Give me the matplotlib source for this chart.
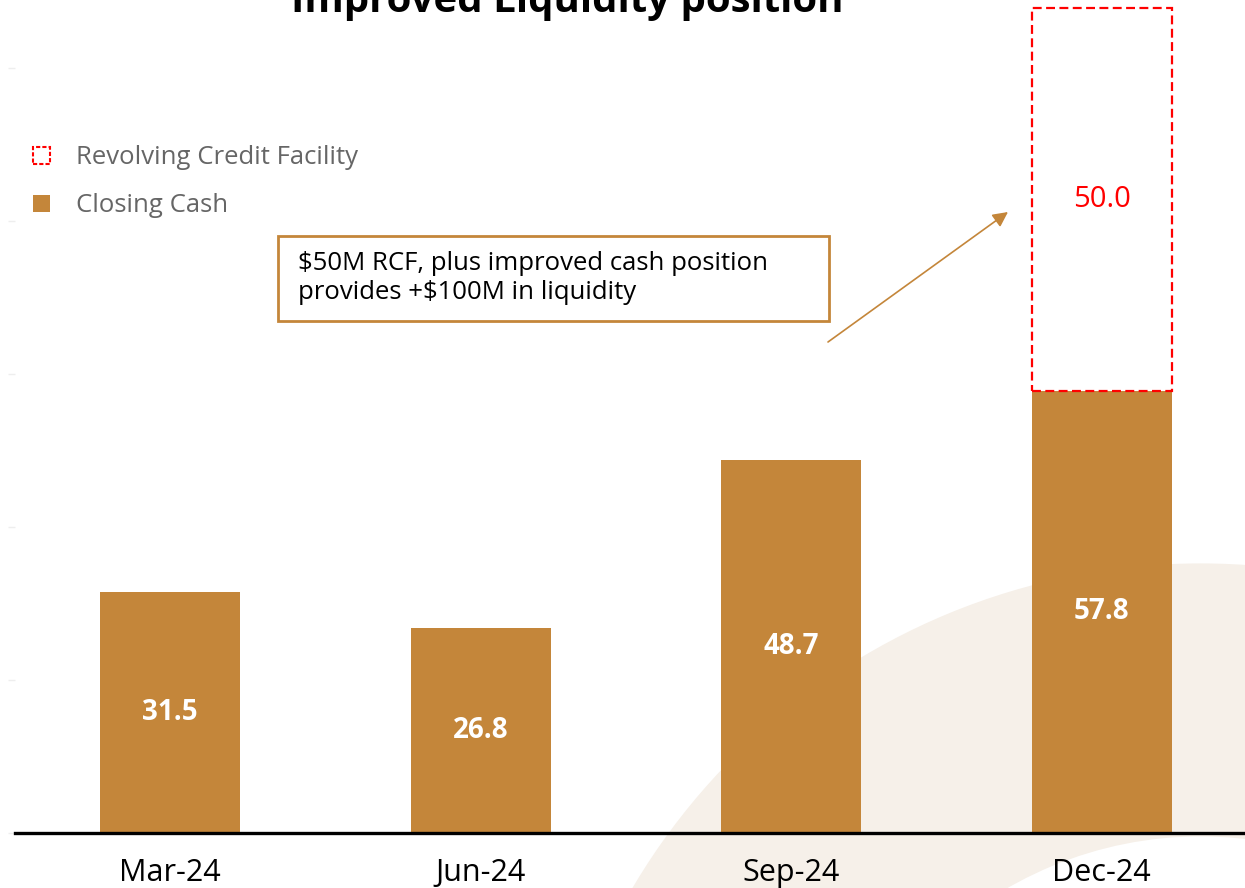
import matplotlib
matplotlib.use("Agg")
import matplotlib.pyplot as plt
from matplotlib.patches import Patch, Rectangle, Wedge

# data
quarters = ["Mar-24", "Jun-24", "Sep-24", "Dec-24"]
closing_cash = [31.5, 26.8, 48.7, 57.8]
rcf = [0, 0, 0, 50.0]

CASH = "#C4863A"
RING = "#F6F0E9"
plt.rcParams["font.family"] = ["Open Sans", "DejaVu Sans"]

W, H = 1245, 888
fig = plt.figure(figsize=(W / 100, H / 100), dpi=100)

# faint background ring (figure pixels -> inches)
ring = Wedge((12.006, -3.35), 6.596, 0, 360, width=2.73,
             transform=fig.dpi_scale_trans, facecolor=RING,
             edgecolor="none", zorder=0)
fig.add_artist(ring)

ax = fig.add_axes([15 / W, 55 / H, 1242 / W, 833 / H])
ax.set_facecolor("none")
ax.set_zorder(1)

x = list(range(len(quarters)))
ax.bar(x, closing_cash, width=0.45, color=CASH, zorder=2)
for xi, c, r in zip(x, closing_cash, rcf):
    ax.text(xi, c / 2, f"{c:.1f}", ha="center", va="center",
            color="white", fontsize=20, fontweight="bold", zorder=3)
    if r > 0:
        ax.bar(xi, r, bottom=c, width=0.45, facecolor="white",
               edgecolor="#FF0000", linestyle=(0, (4, 2)), linewidth=1.6,
               zorder=2)
        ax.text(xi, c + r / 2, f"{r:.1f}", ha="center", va="center",
                color="#FF0000", fontsize=21, zorder=3)

ax.set_xlim(-0.5, 3.5)
ax.set_ylim(0, 833 / 7.65)
ax.set_xticks(x)
ax.set_xticklabels(quarters, fontsize=22, color="black")
ax.tick_params(axis="x", length=0, pad=18)
ax.set_yticks([0, 20, 40, 60, 80, 100])
ax.set_yticklabels([])
ax.tick_params(axis="y", length=5, color="#EEEEEE", width=1)
for s in ["top", "right", "left"]:
    ax.spines[s].set_visible(False)
ax.spines["bottom"].set_linewidth(2.4)
ax.spines["bottom"].set_color("black")

# title (cut off at the top, as in the source)
fig.text(567 / W, (H - 12) / H, "Improved Liquidity position",
         ha="center", va="baseline", fontsize=29, fontweight="bold")

# legend
handles = [
    Patch(facecolor="white", edgecolor="#FF0000", linestyle=(0, (2, 1)),
          linewidth=1.5, label="Revolving Credit Facility"),
    Patch(facecolor=CASH, edgecolor="none", label="Closing Cash"),
]
leg = fig.legend(handles=handles, loc="upper left",
                 bbox_to_anchor=(10 / W, (H - 122) / H), frameon=False,
                 handlelength=0.65, handleheight=0.65, handletextpad=1.0,
                 labelspacing=0.9, fontsize=18.5)
for t in leg.get_texts():
    t.set_color("#666666")

# callout box
fig.add_artist(Rectangle((278 / W, (H - 321) / H), 551 / W, 85 / H,
                         transform=fig.transFigure, facecolor="white",
                         edgecolor=CASH, linewidth=2, zorder=3))
fig.text(298 / W, (H - 278) / H,
         "$50M RCF, plus improved cash position\nprovides +$100M in liquidity",
         ha="left", va="center", fontsize=18.5, linespacing=1.2, zorder=4)

ax.annotate("", xy=(1008, H - 212), xycoords="figure pixels",
            xytext=(828, H - 342), textcoords="figure pixels",
            arrowprops=dict(arrowstyle="-|>,head_length=0.9,head_width=0.45",
                            color=CASH, lw=1.2, shrinkA=0, shrinkB=0))

fig.savefig("out.png", dpi=100)
